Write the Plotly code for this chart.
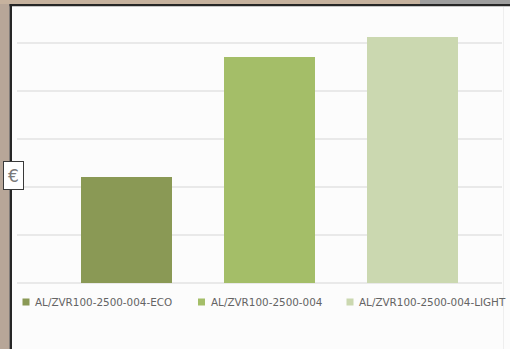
import plotly.graph_objects as go

# Series: one bar per article, price in euro
series_names = ["AL/ZVR100-2500-004-ECO", "AL/ZVR100-2500-004", "AL/ZVR100-2500-004-LIGHT"]
series_values = [22.1, 47.1, 51.3]
series_colors = ["#8a9955", "#a4be68", "#cbd8b0"]

# Canvas geometry (pixels)
W, H = 510, 349
ML, MR, MT, MB = 17, 8, 17, 66
PW, PH = W - ML - MR, H - MT - MB


def px2x(px):
    return (px - ML) / PW


def py2y(py):
    return (H - MB - py) / PH


fig = go.Figure()
for name, val, col in zip(series_names, series_values, series_colors):
    fig.add_trace(go.Bar(
        x=[name], y=[val], name=name, width=0.636,
        marker=dict(color=col, line=dict(width=0)),
        showlegend=False, hoverinfo="skip",
    ))

shapes = []
# window frame around the chart
shapes.append(dict(type="rect", xref="paper", yref="paper", layer="above",
                   x0=px2x(0), x1=px2x(9.5), y0=py2y(H), y1=py2y(0),
                   fillcolor="#b7a698", line=dict(width=0)))
shapes.append(dict(type="rect", xref="paper", yref="paper", layer="above",
                   x0=px2x(0), x1=px2x(420), y0=py2y(4), y1=py2y(0),
                   fillcolor="#c6b29e", line=dict(width=0)))
shapes.append(dict(type="rect", xref="paper", yref="paper", layer="above",
                   x0=px2x(420), x1=px2x(W), y0=py2y(4), y1=py2y(0),
                   fillcolor="#9e9e9e", line=dict(width=0)))
shapes.append(dict(type="rect", xref="paper", yref="paper", layer="above",
                   x0=px2x(9.5), x1=px2x(12), y0=py2y(H), y1=py2y(4),
                   fillcolor="#262626", line=dict(width=0)))
shapes.append(dict(type="rect", xref="paper", yref="paper", layer="above",
                   x0=px2x(9.5), x1=px2x(W), y0=py2y(6.3), y1=py2y(4),
                   fillcolor="#262626", line=dict(width=0)))
shapes.append(dict(type="line", xref="paper", yref="paper", layer="below",
                   x0=px2x(503.5), x1=px2x(503.5), y0=py2y(H), y1=py2y(7),
                   line=dict(color="#eeeeee", width=1)))

annotations = []
# legend entries drawn as square swatch + label
legend_left = [22.5, 198, 346.5]
legend_mid = 302
for name, col, lx in zip(series_names, series_colors, legend_left):
    shapes.append(dict(type="rect", xref="paper", yref="paper",
                       x0=px2x(lx), x1=px2x(lx + 7),
                       y0=py2y(legend_mid + 3.5), y1=py2y(legend_mid - 3.5),
                       fillcolor=col, line=dict(width=0)))
    annotations.append(dict(xref="paper", yref="paper", x=px2x(lx + 10.5), y=py2y(legend_mid),
                            xanchor="left", yanchor="middle", text=name, showarrow=False,
                            font=dict(family="DejaVu Sans", size=10.4, color="#646464")))

# currency label box on the value axis
annotations.append(dict(xref="paper", yref="paper", x=px2x(13.5), y=py2y(175.5),
                        xanchor="center", yanchor="middle", text="€", showarrow=False,
                        width=17, height=25, borderpad=1, borderwidth=1,
                        bordercolor="#3a3a3a", bgcolor="#ffffff",
                        font=dict(family="DejaVu Sans", size=17, color="#7a7a7a")))

fig.update_layout(
    width=W, height=H,
    margin=dict(l=ML, r=MR, t=MT, b=MB, pad=0),
    paper_bgcolor="#fcfcfc", plot_bgcolor="#fcfcfc",
    barmode="overlay", bargap=0,
    showlegend=False,
    shapes=shapes, annotations=annotations,
    xaxis=dict(type="category", range=[-0.766, 2.626], showticklabels=False,
               showgrid=False, zeroline=False, showline=False, ticks=""),
    yaxis=dict(range=[0, 55.4], dtick=10, showticklabels=False, ticks="",
               showgrid=True, gridcolor="#e9e9e9", gridwidth=2,
               zeroline=True, zerolinecolor="#e9e9e9", zerolinewidth=2, showline=False),
)

fig.write_html("out.html")
